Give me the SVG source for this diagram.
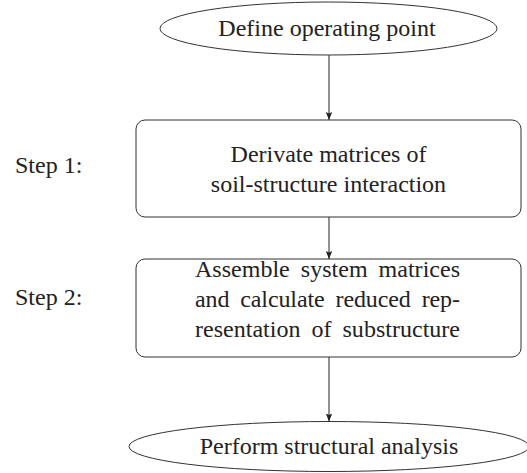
<svg xmlns="http://www.w3.org/2000/svg" width="527" height="473" viewBox="0 0 527 473">
<style>
.shape{fill:none;stroke:#333;stroke-width:1}
.t{font-family:"Liberation Serif","Times New Roman",serif;font-size:24px;fill:#222}
.c{text-anchor:middle}
.j{word-spacing:5px}
.conn{stroke:#222;stroke-width:1;fill:none;marker-end:url(#ah)}
</style>
<defs>
<marker id="ah" viewBox="0 0 8 8" refX="8" refY="4" markerWidth="8" markerHeight="8" markerUnits="userSpaceOnUse" orient="auto">
<path d="M0,0.8 L8,4 L0,7.2 L1.5,4 Z" fill="#222"/>
</marker>
</defs>
<rect width="527" height="473" fill="#fff"/>
<g id="connectors">
<line class="conn" x1="329" y1="55" x2="329" y2="120"/>
<line class="conn" x1="329" y1="217" x2="329" y2="259"/>
<line class="conn" x1="329" y1="357" x2="329" y2="421.5"/>
</g>
<g id="start">
<ellipse class="shape" cx="328.5" cy="28.5" rx="168.5" ry="26.5"/>
<text class="t c" x="327" y="35.5">Define operating point</text>
</g>
<g id="step1">
<rect class="shape" x="136" y="120" width="385" height="97" rx="9"/>
<text class="t c" x="328.5" y="162">Derivate matrices of</text>
<text class="t c" x="328.5" y="192">soil-structure interaction</text>
</g>
<g id="step2">
<rect class="shape" x="136" y="259" width="385" height="98" rx="9"/>
<text class="t j" x="195" y="276.5" textLength="265" lengthAdjust="spacing">Assemble system matrices</text>
<text class="t j" x="195" y="306.5" textLength="265" lengthAdjust="spacing">and calculate reduced rep-</text>
<text class="t j" x="195" y="336.5" textLength="265" lengthAdjust="spacing">resentation of substructure</text>
</g>
<g id="end">
<ellipse class="shape" cx="329" cy="446.5" rx="200" ry="25"/>
<text class="t c" x="329" y="453.5">Perform structural analysis</text>
</g>
<g id="labels">
<text class="t" x="15" y="173">Step 1:</text>
<text class="t" x="15" y="305">Step 2:</text>
</g>
</svg>
